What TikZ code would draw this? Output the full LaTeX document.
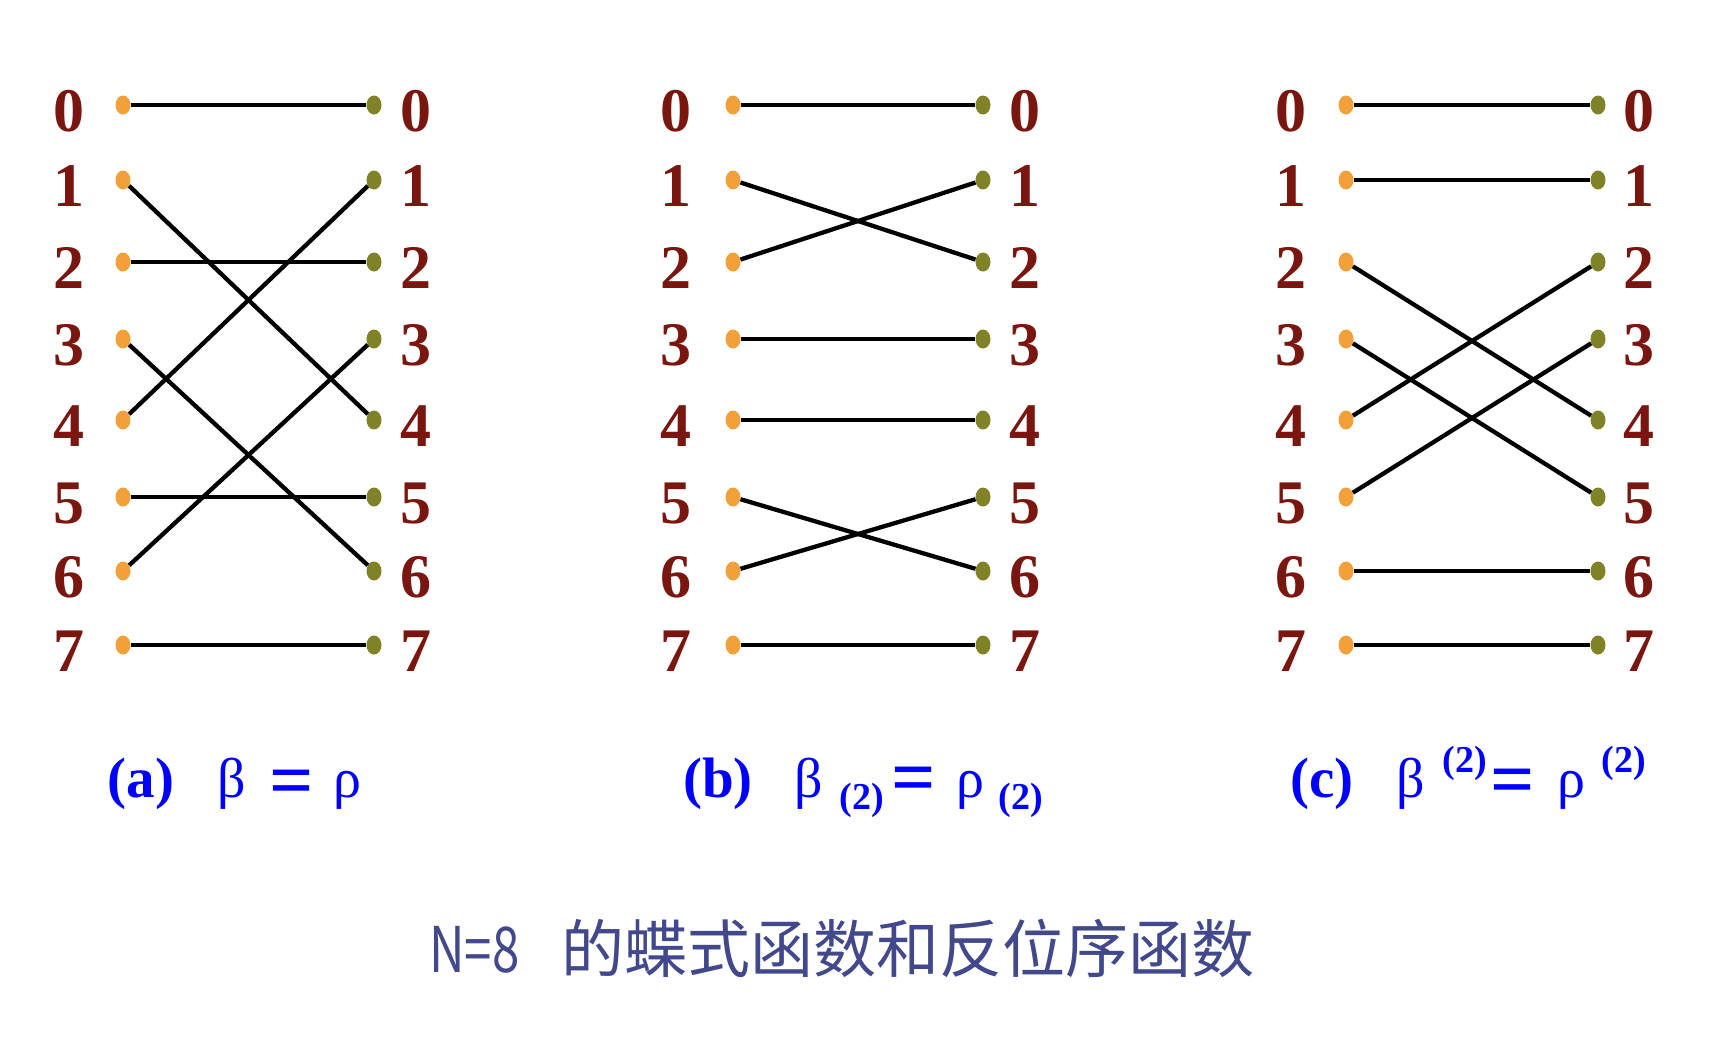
\documentclass[tikz,border=0pt]{standalone}
\usepackage{fontspec}
\setmainfont{Liberation Serif}
\newfontfamily\cjk{Noto Sans CJK SC}
\usetikzlibrary{shapes.geometric}

\definecolor{digitred}{RGB}{122,22,16}
\definecolor{dotorange}{RGB}{242,160,58}
\definecolor{dotolive}{RGB}{128,130,40}
\definecolor{capblue}{RGB}{0,0,255}
\definecolor{titleblue}{RGB}{66,72,140}

\tikzset{
  indot/.style={ellipse,fill=dotorange,inner sep=0pt,minimum width=15pt,minimum height=19pt},
  outdot/.style={ellipse,fill=dotolive,inner sep=0pt,minimum width=15pt,minimum height=19pt},
  digit/.style={text=digitred,font=\fontsize{62}{62}\selectfont\bfseries,inner sep=0pt},
  wire/.style={draw=black,line width=4.3pt},
  caplabel/.style={text=capblue,font=\fontsize{57}{57}\selectfont\bfseries,anchor=base,inner sep=0pt},
  greek/.style={text=capblue,font=\fontsize{56}{56}\selectfont,anchor=base,inner sep=0pt},
  eqsign/.style={text=capblue,font=\fontsize{78}{78}\selectfont\bfseries,anchor=base,inner sep=0pt},
  idxlabel/.style={text=capblue,font=\fontsize{38}{38}\selectfont\bfseries,anchor=base,inner sep=0pt},
  titletext/.style={text=titleblue,font=\cjk\fontsize{63}{63}\selectfont,anchor=base west,inner sep=0pt}
}

\begin{document}
\begin{tikzpicture}[x=1pt,y=-1pt]
\useasboundingbox (0,0) rectangle (1732,1058);
% dots and digits of the three panels:
\foreach \p/\xl/\xr/\tl/\tr in {a/123/374/69/416,b/733/983/676/1025,c/1346/1598/1291/1639}{
  \foreach \i/\y in {0/105,1/180,2/262,3/339,4/420,5/497,6/571,7/645}{
    \node[indot] (\p l\i) at (\xl,\y) {};
    \node[outdot] (\p r\i) at (\xr,\y) {};
    \node[digit] (\p nl\i) at (\tl,\y+6) {\i};
    \node[digit] (\p nr\i) at (\tr,\y+6) {\i};
  }
}
% panel (a):
\foreach \i/\j in {0/0,1/4,2/2,3/6,4/1,5/5,6/3,7/7}
  \draw[wire] (al\i) -- (ar\j);
% panel (b):
\foreach \i/\j in {0/0,1/2,2/1,3/3,4/4,5/6,6/5,7/7}
  \draw[wire] (bl\i) -- (br\j);
% panel (c):
\foreach \i/\j in {0/0,1/1,2/4,3/5,4/2,5/3,6/6,7/7}
  \draw[wire] (cl\i) -- (cr\j);
% captions:
\node[caplabel] (capa) at (141,797) {(a)};
\node[greek] (betaa) at (232,797) {β};
\node[eqsign] (eqa) at (292,806) {=};
\node[greek] (rhoa) at (347,797) {ρ};
\node[caplabel] (capb) at (718,797) {(b)};
\node[greek] (betab) at (809,797) {β};
\node[idxlabel] (subb) at (862,809) {(2)};
\node[eqsign] (eqb) at (914,803) {=};
\node[greek] (rhob) at (970,797) {ρ};
\node[idxlabel] (subrb) at (1021,809) {(2)};
\node[caplabel] (capc) at (1322,797) {(c)};
\node[greek] (betac) at (1411,797) {β};
\node[idxlabel] (supc) at (1465,772) {(2)};
\node[eqsign] (eqc) at (1513,805) {=};
\node[greek] (rhoc) at (1571,797) {ρ};
\node[idxlabel] (suprc) at (1624,772) {(2)};
% title:
\node[titletext] (titlen) at (429,972) {\scalebox{0.78}[1]{N=8}};
\node[titletext] (titlecjk) at (561,972) {的蝶式函数和反位序函数};
\end{tikzpicture}
\end{document}
